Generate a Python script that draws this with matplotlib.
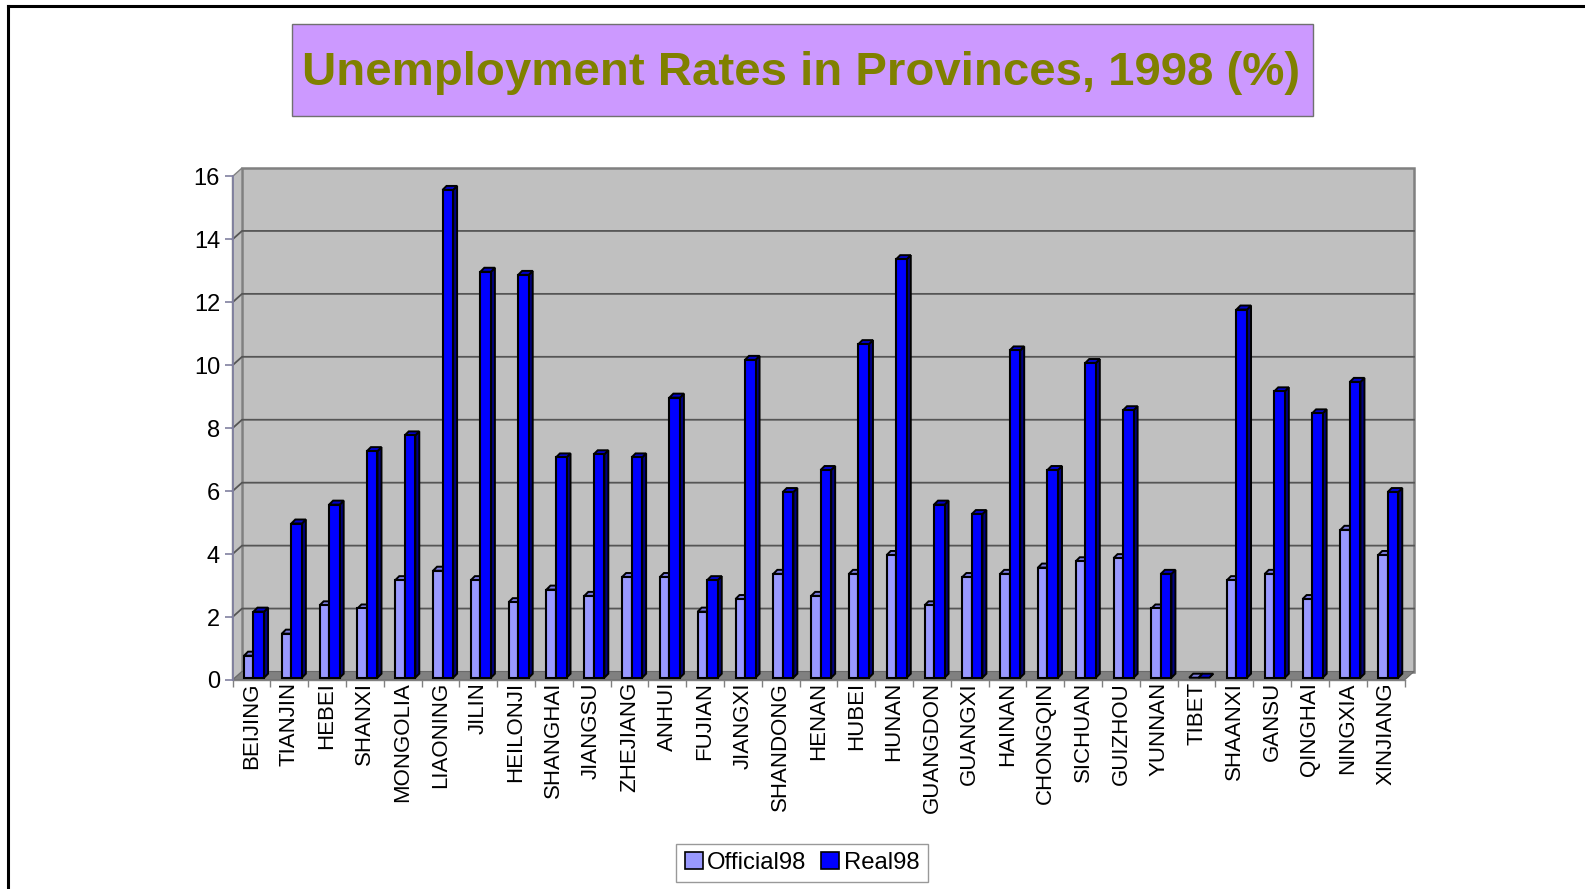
import matplotlib
matplotlib.use("Agg")
import matplotlib.pyplot as plt
from matplotlib.patches import Rectangle, Polygon, Patch
from matplotlib.lines import Line2D

plt.rcParams['font.family'] = ['Liberation Sans', 'DejaVu Sans']

# --- data ---
provinces = ["BEIJING", "TIANJIN", "HEBEI", "SHANXI", "MONGOLIA", "LIAONING", "JILIN",
             "HEILONJI", "SHANGHAI", "JIANGSU", "ZHEJIANG", "ANHUI", "FUJIAN", "JIANGXI",
             "SHANDONG", "HENAN", "HUBEI", "HUNAN", "GUANGDON", "GUANGXI", "HAINAN",
             "CHONGQIN", "SICHUAN", "GUIZHOU", "YUNNAN", "TIBET", "SHAANXI", "GANSU",
             "QINGHAI", "NINGXIA", "XINJIANG"]
official98 = [0.7, 1.4, 2.3, 2.2, 3.1, 3.4, 3.1, 2.4, 2.8, 2.6, 3.2, 3.2, 2.1, 2.5,
              3.3, 2.6, 3.3, 3.9, 2.3, 3.2, 3.3, 3.5, 3.7, 3.8, 2.2, 0.0, 3.1, 3.3,
              2.5, 4.7, 3.9]
real98 = [2.1, 4.9, 5.5, 7.2, 7.7, 15.5, 12.9, 12.8, 7.0, 7.1, 7.0, 8.9, 3.1, 10.1,
          5.9, 6.6, 10.6, 13.3, 5.5, 5.2, 10.4, 6.6, 10.0, 8.5, 3.3, 0.0, 11.7, 9.1,
          8.4, 9.4, 5.9]
y_ticks = [0, 2, 4, 6, 8, 10, 12, 14, 16]

COLORS = {
    'official': '#9999ff', 'official_top': '#7b7be0', 'official_side': '#5c5cb8',
    'real': '#0000ff', 'real_top': '#0000cc', 'real_side': '#000080',
    'wall': '#c0c0c0', 'floor': '#808080', 'grid': '#555555',
    'axis': '#8080a0', 'title': '#808000', 'title_bg': '#cc99ff',
}

W, H = 1585, 889
fig = plt.figure(figsize=(W / 100, H / 100), dpi=100)
fig.patch.set_facecolor('white')

# front plane of the 3D box, in pixels
x_left, x_right = 232.5, 1404.5
y_zero, y_top = 680.0, 176.5
ax = fig.add_axes([x_left / W, 1 - y_zero / H, (x_right - x_left) / W, (y_zero - y_top) / H])
n = len(provinces)
ax.set_xlim(0, n)
ax.set_ylim(0, 16)
ax.patch.set_visible(False)

px_x = (x_right - x_left) / n
px_y = (y_zero - y_top) / 16
# depth of the chart box and of the columns, px -> data units
WX, WY = 9.5 / px_x, 8.5 / px_y
DX, DY = 4.0 / px_x, 4.0 / px_y
BY = 2.3 / px_y

# back wall, side wall, floor
ax.add_patch(Rectangle((WX, WY), n, 16, facecolor=COLORS['wall'], edgecolor=COLORS['floor'],
                       lw=1.8, zorder=0, clip_on=False))
ax.add_patch(Polygon([(0, 0), (WX, WY), (WX, 16 + WY), (0, 16)], closed=True,
                     facecolor=COLORS['wall'], edgecolor=COLORS['floor'], lw=1.0, zorder=0, clip_on=False))
for v in y_ticks[1:-1]:
    ax.plot([0, WX, n + WX], [v, v + WY, v + WY], color=COLORS['grid'], lw=1.3, zorder=1, clip_on=False)
ax.add_patch(Polygon([(0, 0), (n, 0), (n + WX, WY), (WX, WY)], closed=True,
                     facecolor=COLORS['floor'], edgecolor='#6a6a6a', lw=0.8, zorder=1, clip_on=False))


def column(x0, w, h, front, top, side):
    y0 = BY
    y1 = BY + h
    ax.add_patch(Polygon([(x0 + w, y0), (x0 + w + DX, y0 + DY), (x0 + w + DX, y1 + DY), (x0 + w, y1)],
                         closed=True, facecolor=side, edgecolor='black', lw=1.4, zorder=3, clip_on=False))
    ax.add_patch(Polygon([(x0, y1), (x0 + w, y1), (x0 + w + DX, y1 + DY), (x0 + DX, y1 + DY)],
                         closed=True, facecolor=top, edgecolor='black', lw=1.4, zorder=3, clip_on=False))
    if h > 0:
        ax.add_patch(Rectangle((x0, y0), w, h, facecolor=front, edgecolor='black', lw=1.5,
                               zorder=3, clip_on=False))


for i in range(n):
    column(i + 0.305, 0.25, official98[i], COLORS['official'], COLORS['official_top'], COLORS['official_side'])
    column(i + 0.555, 0.28, real98[i], COLORS['real'], COLORS['real_top'], COLORS['real_side'])

# axes
for s in ['top', 'right']:
    ax.spines[s].set_visible(False)
ax.spines['left'].set_color(COLORS['axis'])
ax.spines['left'].set_linewidth(1.3)
ax.spines['bottom'].set_color(COLORS['floor'])
ax.spines['bottom'].set_linewidth(1.0)
ax.spines['left'].set_zorder(5)

ax.set_yticks(y_ticks)
ax.set_yticklabels([str(v) for v in y_ticks])
ax.tick_params(axis='y', direction='out', length=6, width=1.2, color=COLORS['axis'],
               labelsize=17, pad=3)
ax.set_xticks([i + 0.5 for i in range(n)])
ax.set_xticklabels(provinces, rotation=90, va='top', ha='center')
ax.set_xticks(range(n + 1), minor=True)
ax.tick_params(axis='x', which='major', length=0, labelsize=16, pad=1.5)
ax.tick_params(axis='x', which='minor', direction='out', length=5, width=1.0, color=COLORS['floor'])
ax.set_zorder(2)

# title box
fig.patches.append(Rectangle((292 / W, 1 - 116 / H), 1021 / W, 92 / H, transform=fig.transFigure,
                             facecolor=COLORS['title_bg'], edgecolor='#707070', lw=1.0, zorder=1))
fig.text(801.5 / W, 1 - 85 / H, "Unemployment Rates in Provinces, 1998 (%)", ha='center', va='baseline',
         fontsize=34.1, fontweight='bold', color=COLORS['title'], zorder=2)

# outer frame (cut at right and bottom)
fig.add_artist(Line2D([8 / W, 1.0], [1 - 5.5 / H, 1 - 5.5 / H], transform=fig.transFigure, color='black', lw=2.2))
fig.add_artist(Line2D([8 / W, 8 / W], [1 - 5.5 / H, 0.0], transform=fig.transFigure, color='black', lw=2.2))

# legend
handles = [Patch(facecolor=COLORS['official'], edgecolor='black', lw=1.2, label='Official98'),
           Patch(facecolor=COLORS['real'], edgecolor='black', lw=1.2, label='Real98')]
leg = fig.legend(handles=handles, loc='center', bbox_to_anchor=(802 / W, 1 - 863 / H), ncol=2,
                 fontsize=17.2, frameon=True, fancybox=False, handlelength=0.75, handleheight=0.75,
                 handletextpad=0.2, columnspacing=0.6, borderpad=0.35, borderaxespad=0)
leg.get_frame().set_edgecolor('#808080')
leg.get_frame().set_linewidth(1.0)

fig.savefig('out.png', dpi=100, facecolor='white')
